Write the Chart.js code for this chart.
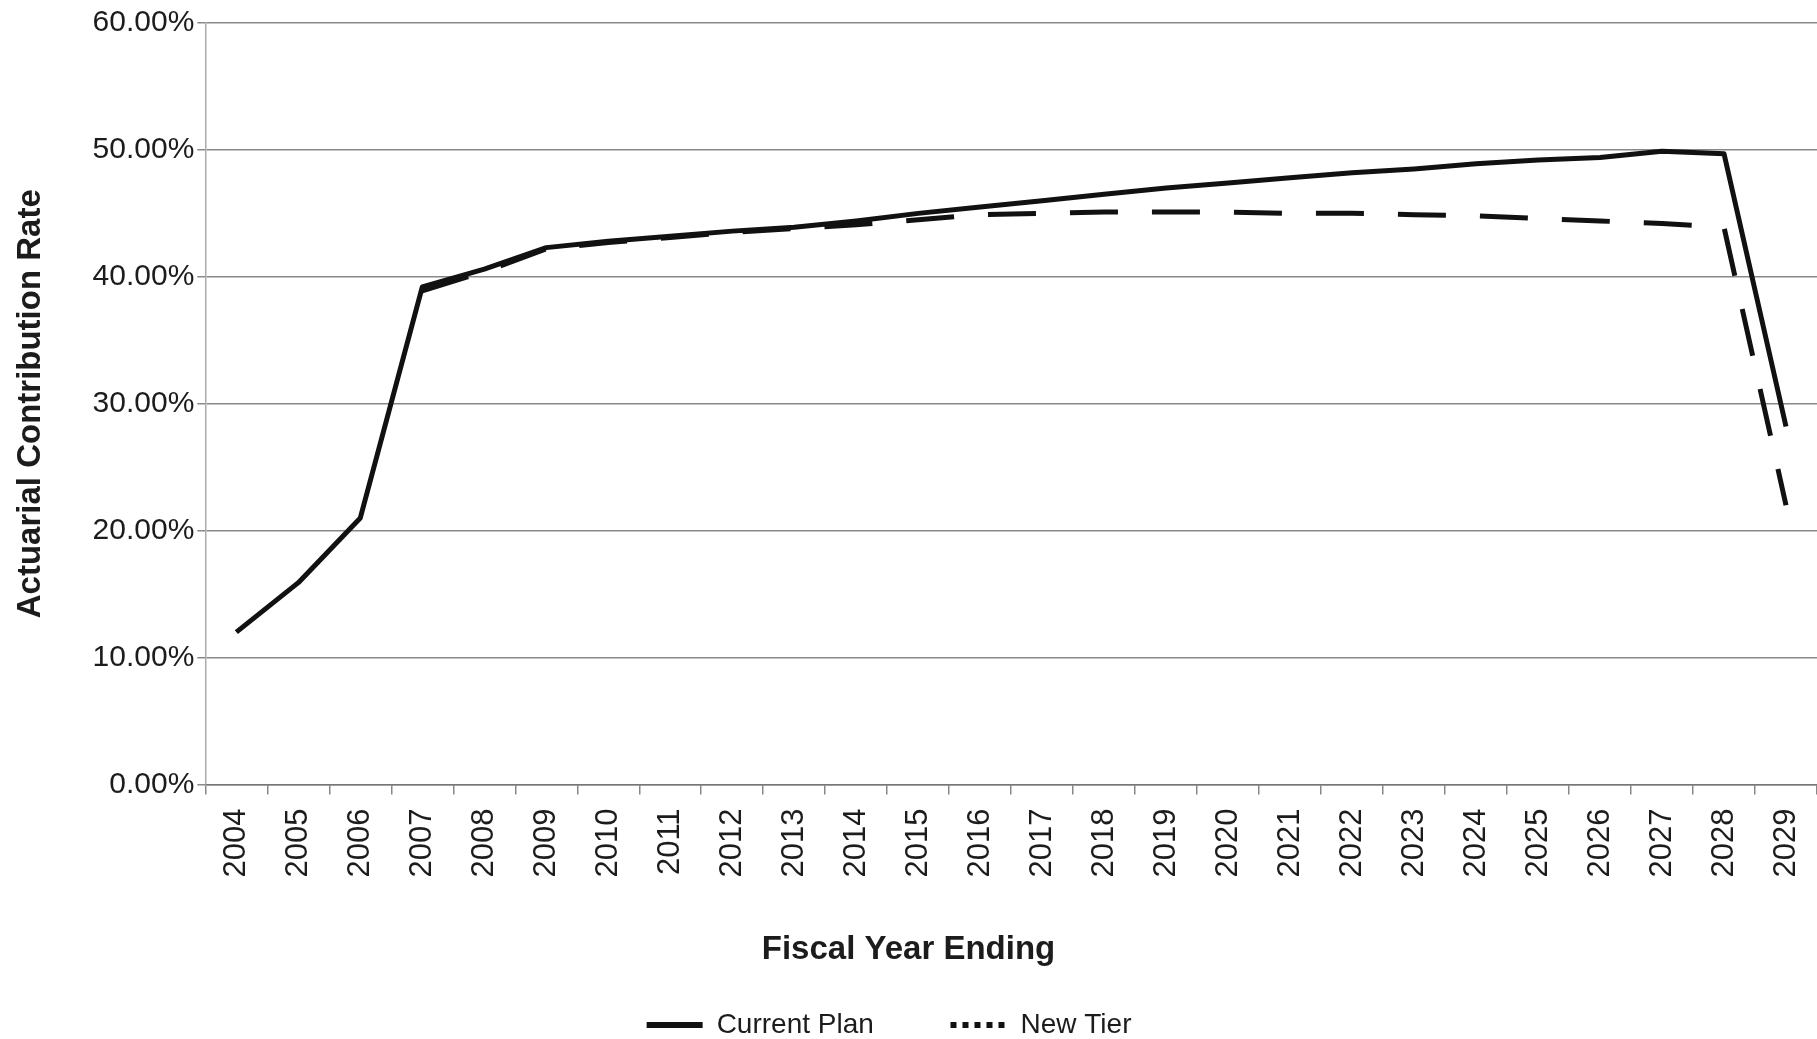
<!DOCTYPE html>
<html>
<head>
<meta charset="utf-8">
<title>Actuarial Contribution Rate</title>
<script src="https://cdn.jsdelivr.net/npm/chart.js@4.4.0/dist/chart.umd.min.js"></script>
<style>
  html, body { margin: 0; padding: 0; background: #ffffff; }
  #wrap { width: 1817px; height: 1039px; }
</style>
</head>
<body>
<div id="wrap"><canvas id="rateChart" width="1817" height="1039"></canvas></div>
<script>
// fiscal years and contribution rates (percent of payroll)
var years = ['2004', '2005', '2006', '2007', '2008', '2009', '2010', '2011', '2012',
  '2013', '2014', '2015', '2016', '2017', '2018', '2019', '2020', '2021', '2022',
  '2023', '2024', '2025', '2026', '2027', '2028', '2029'];

var currentPlan = [12.0, 15.9, 21.0, 39.2, 40.6, 42.3, 42.8, 43.2, 43.6, 43.9,
  44.4, 45.0, 45.5, 46.0, 46.5, 47.0, 47.4, 47.8, 48.2, 48.5, 48.9, 49.2, 49.4,
  49.9, 49.7, 28.2];

var newTier = [null, null, null, 38.9, 40.4, 42.2, 42.7, 43.1, 43.5, 43.8,
  44.1, 44.5, 44.9, 45.0, 45.1, 45.1, 45.1, 45.0, 45.0, 44.9, 44.8, 44.6, 44.4,
  44.2, 43.9, 22.0];

var yTicks = [0, 10, 20, 30, 40, 50, 60];

var gridGray = 'rgba(115,115,115,0.85)';
var textColor = '#1c1c1c';
var family = "'Liberation Sans', Arial, sans-serif";
var nbsp = '\u00a0';

var ctx = document.getElementById('rateChart');

var chartGraph = new Chart(ctx, {
  type: 'line',
  data: {
    labels: years,
    datasets: [
      {
        label: 'Current Plan',
        data: currentPlan,
        borderColor: '#111111',
        backgroundColor: '#111111',
        borderWidth: 5,
        pointRadius: 0,
        tension: 0,
        borderJoinStyle: 'round'
      },
      {
        label: 'New Tier',
        data: newTier,
        borderColor: '#111111',
        backgroundColor: '#111111',
        borderWidth: 5,
        borderDash: [48, 34],
        pointRadius: 0,
        tension: 0
      }
    ]
  },
  options: {
    responsive: false,
    animation: false,
    layout: {
      padding: { top: 23, left: 0, right: 0, bottom: -10 }
    },
    scales: {
      x: {
        offset: true,
        afterFit: function (scale) {
          // let the last category run to the canvas edge
          scale.paddingLeft = 0;
          scale.paddingRight = 0;
        },
        grid: {
          display: true,
          offset: true,
          drawOnChartArea: false,
          drawTicks: true,
          tickLength: 10,
          color: gridGray,
          lineWidth: 1.5
        },
        border: { color: gridGray, width: 1.5 },
        ticks: {
          minRotation: 90,
          maxRotation: 90,
          autoSkip: false,
          padding: 14,
          color: textColor,
          font: { family: family, size: 31 }
        }
      },
      y: {
        min: 0,
        max: 60,
        afterBuildTicks: function (scale) {
          scale.ticks = yTicks.map(function (v) { return { value: v }; });
        },
        grid: {
          color: gridGray,
          lineWidth: 1.5,
          tickLength: 8
        },
        border: { color: 'rgba(150,150,150,0.8)', width: 1.5 },
        ticks: {
          padding: 3,
          color: textColor,
          font: { family: family, size: 30 },
          callback: function (v) { return v.toFixed(2) + '%'; }
        },
        title: {
          display: true,
          text: 'Actuarial Contribution Rate',
          color: textColor,
          font: { family: family, size: 33, weight: 'bold' },
          padding: { top: 11, bottom: 39 }
        }
      }
    },
    plugins: {
      title: {
        display: true,
        text: 'Fiscal Year Ending',
        position: 'bottom',
        weight: 500,
        color: textColor,
        font: { family: family, size: 33, weight: 'bold' },
        padding: { top: 39, bottom: 11 }
      },
      legend: {
        position: 'bottom',
        labels: {
          usePointStyle: true,
          pointStyleWidth: 56,
          padding: 30,
          color: textColor,
          font: { family: family, size: 28 },
          generateLabels: function (chart) {
            var items = Chart.defaults.plugins.legend.labels.generateLabels(chart);
            items.forEach(function (item) {
              item.pointStyle = 'line';
              item.lineWidth = 6;
              if (item.datasetIndex === 1) {
                item.lineDash = [6, 6];
                item.text = item.text + nbsp.repeat(5);
              } else {
                item.lineDash = [];
                item.text = item.text + nbsp.repeat(6);
              }
            });
            return items;
          }
        }
      },
      tooltip: { enabled: false }
    }
  }
});
</script>
</body>
</html>
